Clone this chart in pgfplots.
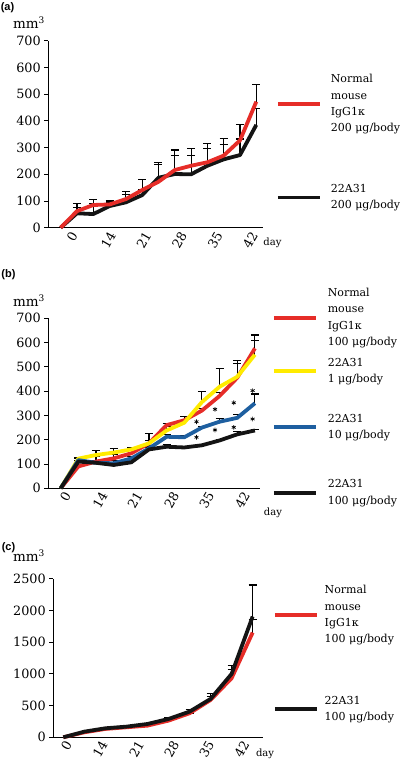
\documentclass[border=0pt]{standalone}
\usepackage{fontspec}
\setmainfont{DejaVu Serif}
\newfontfamily\labfont{Liberation Sans}
\usepackage{pgfplots}
\pgfplotsset{compat=1.18}
\definecolor{cred}{HTML}{E62D28}
\definecolor{cyel}{HTML}{FFEB00}
\definecolor{cblu}{HTML}{1E5FA0}
\definecolor{cblk}{HTML}{141414}
\pgfplotsset{
  legend image code/.code={\draw[#1] (0pt,0pt) -- (42pt,0pt);},
  panel/.style={
    axis lines=left,
    axis line style={-, line width=0.9pt, black},
    tick align=outside,
    ytick pos=left,
    major tick length=4pt,
    every tick/.style={black, line width=0.9pt},
    xtick style={draw=none},
    ymin=0,
    clip=false,
    /pgf/number format/assume math mode=true,
    /pgf/number format/1000 sep={},
    tick label style={font=\fontsize{12.8}{14}\selectfont},
    xticklabel style={rotate=60, anchor=east, inner sep=1pt},
    label style={font=\fontsize{12.5}{14}\selectfont},
    ylabel={\fontsize{13.5}{14}\selectfont mm\textsuperscript{\fontsize{9}{10}\selectfont 3}},
    xlabel={day},
    legend style={draw=none, fill=none, inner sep=0pt, row sep=0pt, column sep=10pt,
      font=\fontsize{11}{16.3}\selectfont,
      nodes={inner sep=0pt, anchor=west, align=left}, anchor=west},
  },
  ebars/.style={draw=none, forget plot,
    error bars/.cd, y dir=plus, y explicit,
    error bar style={draw=black, line width=1.1pt, solid},
    error mark options={draw=black, rotate=90, mark size=4pt, line width=1.1pt}},
  dline/.style={line width=3.8pt, line join=round, forget plot},
}
\begin{document}
\begin{tikzpicture}
\useasboundingbox (0,0) rectangle (404pt,760pt);
\node[font=\labfont\bfseries\fontsize{11}{12}\selectfont] at (7.5pt,752pt) {(a)};
\node[font=\labfont\bfseries\fontsize{11}{12}\selectfont] at (8.5pt,485pt) {(b)};
\node[font=\labfont\bfseries\fontsize{11}{12}\selectfont] at (8.5pt,212pt) {(c)};

% ---------------- (a)
\begin{axis}[panel,
  at={(48.3pt,532.3pt)}, anchor=south west,
  x=16.3pt, y=0.267pt,
  xmin=-0.76, xmax=12.41, ymax=700,
  ytick={0,100,...,700},
  xtick={0.86,3.21,5.39,7.57,9.76,11.91},
  xticklabels={0,14,21,28,35,42},
  every axis y label/.style={at={(axis description cs:-0.09,1.099)}, anchor=center},
  every axis x label/.style={at={(axis description cs:1.044,-0.082)}, anchor=center},
  legend style={at={(axis description cs:1.0600,0.4117)}, column sep=9pt},
]
\addplot[ebars] coordinates {(0,0) +- (0,0) (1,62) +- (0,29) (2,85) +- (0,19) (3,87) +- (0,13) (4,107) +- (0,30) (5,141) +- (0,41) (6,172) +- (0,73) (7,216) +- (0,75) (8,232) +- (0,63) (9,245) +- (0,69) (10,270) +- (0,65) (11,327) +- (0,58) (12,472) +- (0,65)};
\addplot[ebars] coordinates {(0,0) +- (0,0) (1,54) +- (0,21) (2,51) +- (0,40) (3,81) +- (0,14) (4,95) +- (0,31) (5,122) +- (0,19) (6,187) +- (0,48) (7,201) +- (0,71) (8,200) +- (0,69) (9,232) +- (0,63) (10,256) +- (0,56) (11,272) +- (0,60) (12,385) +- (0,62)};
\addplot[dline, cblk] coordinates {(0,0) (1,54) (2,51) (3,81) (4,95) (5,122) (6,187) (7,201) (8,200) (9,232) (10,256) (11,272) (12,385)};
\addplot[dline, cred] coordinates {(0,0) (1,62) (2,85) (3,87) (4,107) (5,141) (6,172) (7,216) (8,232) (9,245) (10,270) (11,327) (12,472)};
\addlegendimage{cred, line width=3.8pt}
\addlegendentry[minimum height=93.5pt]{Normal\\mouse\\IgG1κ\\200 μg/body}
\addlegendimage{cblk, line width=3.8pt}
\addlegendentry[minimum height=93.5pt]{22A31\\200 μg/body}
\end{axis}

% ---------------- (b)
\begin{axis}[panel,
  at={(48.3pt,271.7pt)}, anchor=south west,
  x=17.66pt, y=0.243pt,
  xmin=-0.70, xmax=11.29, ymax=700,
  ytick={0,100,...,700},
  xtick={0.41,2.49,4.47,6.55,8.53,10.55},
  xticklabels={0,14,21,28,35,42},
  every axis y label/.style={at={(axis description cs:-0.091,1.103)}, anchor=center},
  every axis x label/.style={at={(axis description cs:1.061,-0.145)}, anchor=center},
  legend style={at={(axis description cs:1.0553,0.4856)}},
]
\addplot[ebars] coordinates {(0,0) +- (0,0) (1,90) +- (0,8) (2,110) +- (0,20) (3,123) +- (0,15) (4,144) +- (0,10) (5,185) +- (0,41) (6,260) +- (0,7) (7,280) +- (0,17) (8,320) +- (0,8) (9,380) +- (0,13) (10,455) +- (0,72) (11,576) +- (0,55)};
\addplot[ebars] coordinates {(0,0) +- (0,0) (1,122) +- (0,4) (2,137) +- (0,18) (3,147) +- (0,17) (4,160) +- (0,8) (5,185) +- (0,10) (6,238) +- (0,15) (7,270) +- (0,10) (8,355) +- (0,45) (9,418) +- (0,76) (10,459) +- (0,55) (11,550) +- (0,57)};
\addplot[ebars] coordinates {(0,0) +- (0,0) (1,116) +- (0,5) (2,105) +- (0,8) (3,103) +- (0,10) (4,123) +- (0,8) (5,164) +- (0,10) (6,212) +- (0,8) (7,210) +- (0,8) (8,250) +- (0,6) (9,274) +- (0,14) (10,290) +- (0,14) (11,350) +- (0,38)};
\addplot[ebars] coordinates {(0,0) +- (0,0) (1,110) +- (0,5) (2,105) +- (0,5) (3,96) +- (0,5) (4,107) +- (0,5) (5,160) +- (0,8) (6,171) +- (0,8) (7,168) +- (0,5) (8,177) +- (0,5) (9,197) +- (0,5) (10,222) +- (0,11) (11,238) +- (0,5)};
\addplot[dline, cred] coordinates {(0,0) (1,90) (2,110) (3,123) (4,144) (5,185) (6,260) (7,280) (8,320) (9,380) (10,455) (11,576)};
\addplot[dline, cyel] coordinates {(0,0) (1,122) (2,137) (3,147) (4,160) (5,185) (6,238) (7,270) (8,355) (9,418) (10,459) (11,550)};
\addplot[dline, cblu] coordinates {(0,0) (1,116) (2,105) (3,103) (4,123) (5,164) (6,212) (7,210) (8,250) (9,274) (10,290) (11,350)};
\addplot[dline, cblk] coordinates {(0,0) (1,110) (2,105) (3,96) (4,107) (5,160) (6,171) (7,168) (8,177) (9,197) (10,222) (11,238)};
\addplot[only marks, mark=asterisk, mark size=2.3pt, mark options={line width=0.7pt, black}, forget plot] coordinates {(7.69,274) (7.69,210) (8.74,325) (8.74,240) (9.80,352) (9.80,251) (10.87,402) (10.87,285)};
\addlegendimage{cred, line width=3.8pt}
\addlegendentry[minimum height=62pt]{Normal\\mouse\\IgG1κ\\100 μg/body}
\addlegendimage{cyel, line width=3.8pt}
\addlegendentry[minimum height=44.6pt]{22A31\\1 μg/body}
\addlegendimage{cblu, line width=3.8pt}
\addlegendentry[minimum height=67.4pt]{22A31\\10 μg/body}
\addlegendimage{cblk, line width=3.8pt}
\addlegendentry[minimum height=64pt]{22A31\\100 μg/body}
\end{axis}

% ---------------- (c)
\begin{axis}[panel,
  at={(53.3pt,22.7pt)}, anchor=south west,
  x=21.04pt, y=0.0634pt,
  xmin=-0.475, xmax=9.49, ymax=2500,
  ytick={0,500,...,2500},
  xtick={0.27,1.97,3.70,5.37,7.03,8.70},
  xticklabels={0,14,21,28,35,42},
  every axis y label/.style={at={(axis description cs:-0.116,1.146)}, anchor=center},
  every axis x label/.style={at={(axis description cs:1.01,-0.105)}, anchor=center},
  legend style={at={(axis description cs:1.0463,0.475)}, column sep=6pt},
]
\addplot[ebars] coordinates {(0,0) +- (0,0) (1,79) +- (0,0) (2,132) +- (0,0) (3,158) +- (0,0) (4,184) +- (0,0) (5,263) +- (0,0) (6,379) +- (0,0) (7,589) +- (0,60) (8,932) +- (0,131) (9,1652) +- (0,209)};
\addplot[ebars] coordinates {(0,0) +- (0,0) (1,89) +- (0,0) (2,142) +- (0,0) (3,168) +- (0,0) (4,210) +- (0,10) (5,289) +- (0,20) (6,405) +- (0,37) (7,605) +- (0,79) (8,1000) +- (0,131) (9,1905) +- (0,497)};
\addplot[dline, cred] coordinates {(0,0) (1,79) (2,132) (3,158) (4,184) (5,263) (6,379) (7,589) (8,932) (9,1652)};
\addplot[dline, cblk] coordinates {(0,0) (1,89) (2,142) (3,168) (4,210) (5,289) (6,405) (7,605) (8,1000) (9,1905)};
\addlegendimage{cred, line width=3.8pt}
\addlegendentry[minimum height=94pt]{Normal\\mouse\\IgG1κ\\100 μg/body}
\addlegendimage{cblk, line width=3.8pt}
\addlegendentry[minimum height=94pt]{22A31\\100 μg/body}
\end{axis}
\end{tikzpicture}
\end{document}
